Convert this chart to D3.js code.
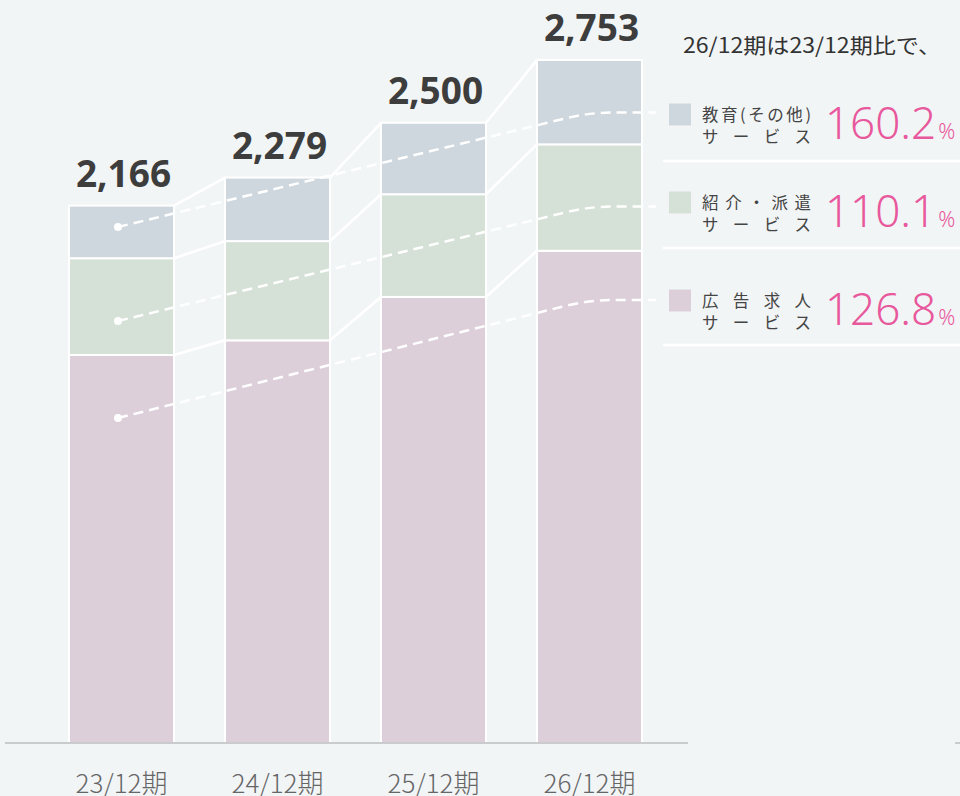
<!DOCTYPE html>
<html>
<head>
<meta charset="utf-8">
<script src="https://cdn.jsdelivr.net/npm/d3@7"></script>
<style>
  html, body { margin: 0; padding: 0; background: #f2f5f6; }
  svg { display: block; }
</style>
</head>
<body>
<div id="chart"></div>
<script>
// periods on the x axis
let periods = ['23/12期', '24/12期', '25/12期', '26/12期'];

// stacked series, bottom to top
let adValues = [1564, 1623, 1798, 1984];      // 広告求人サービス
let agencyValues = [390, 400, 414, 429];      // 紹介・派遣サービス
let eduValues = [212, 256, 288, 340];         // 教育(その他)サービス

// growth 26/12 vs 23/12, legend order top to bottom
let legendNames = [['教育(その他)', 'サービス'], ['紹介・派遣', 'サービス'], ['広告求人', 'サービス']];
let growthLabels = ['160.2', '110.1', '126.8'];
let headline = '26/12期は23/12期比で、';

let colors = {
  ad: '#dccfda',
  agency: '#d5e0d6',
  edu: '#ced7de'
};

let width = 960,
  height = 796;

let svg = d3.select('#chart').append('svg')
  .attr('width', width)
  .attr('height', height);

svg.append('rect')
  .attr('width', width)
  .attr('height', height)
  .attr('fill', '#f2f5f6');

///////////////////////////////////////////////////////////////////////////
///////////////////////////// Scales and stack ////////////////////////////
///////////////////////////////////////////////////////////////////////////

let rows = periods.map((p, i) => ({
  period: p,
  ad: adValues[i],
  agency: agencyValues[i],
  edu: eduValues[i]
}));
let totals = rows.map(r => r.ad + r.agency + r.edu);

let x = d3.scaleBand()
  .domain(periods)
  .range([43.5, 667.5])
  .paddingInner(0.327)
  .paddingOuter(0.1635);

let y = d3.scaleLinear()
  .domain([0, d3.max(totals)])
  .range([743, 60]);

let keys = ['ad', 'agency', 'edu'];
let series = d3.stack().keys(keys)(rows);
let bw = x.bandwidth();

///////////////////////////////////////////////////////////////////////////
////////////////////////// Bars and connectors ////////////////////////////
///////////////////////////////////////////////////////////////////////////

// white lines joining each layer's top between neighbouring bars
series.forEach(s => {
  for (let i = 0; i < s.length - 1; i++) {
    svg.append('line')
      .attr('x1', x(periods[i]) + bw)
      .attr('y1', y(s[i][1]))
      .attr('x2', x(periods[i + 1]))
      .attr('y2', y(s[i + 1][1]))
      .attr('stroke', '#fff')
      .attr('stroke-width', 2.6);
  }
});

svg.append('g')
  .selectAll('g')
  .data(series)
  .enter().append('g')
  .attr('fill', d => colors[d.key])
  .selectAll('rect')
  .data(d => d)
  .enter().append('rect')
  .attr('x', d => x(d.data.period))
  .attr('y', d => y(d[1]))
  .attr('width', bw)
  .attr('height', d => y(d[0]) - y(d[1]))
  .attr('stroke', '#fff')
  .attr('stroke-width', 2);

// totals above the bars
svg.append('g')
  .selectAll('text')
  .data(totals)
  .enter().append('text')
  .attr('x', (d, i) => x(periods[i]) + bw / 2 + 2)
  .attr('y', d => y(d) - 19)
  .attr('text-anchor', 'middle')
  .attr('font-family', '"Noto Sans", Roboto, sans-serif')
  .attr('font-weight', 700)
  .attr('font-size', 37)
  .attr('fill', '#3d3d3d')
  .text(d => d3.format(',')(d));

///////////////////////////////////////////////////////////////////////////
/////////////////////////////// Axis //////////////////////////////////////
///////////////////////////////////////////////////////////////////////////

svg.append('line')
  .attr('x1', 5).attr('x2', 688)
  .attr('y1', 743).attr('y2', 743)
  .attr('stroke', '#c9cbcc')
  .attr('stroke-width', 2);
svg.append('line')
  .attr('x1', 955).attr('x2', 960)
  .attr('y1', 743).attr('y2', 743)
  .attr('stroke', '#c9cbcc')
  .attr('stroke-width', 2);

let xAxis = svg.append('g')
  .attr('transform', 'translate(0,743)')
  .call(d3.axisBottom(x).tickSize(0));
xAxis.select('.domain').remove();
xAxis.selectAll('text')
  .attr('y', 50)
  .attr('dy', 0)
  .attr('font-family', '"Noto Sans CJK JP", sans-serif')
  .attr('font-weight', 300)
  .attr('font-size', 26)
  .attr('fill', '#666');

///////////////////////////////////////////////////////////////////////////
///////////////////////////// Legend //////////////////////////////////////
///////////////////////////////////////////////////////////////////////////

svg.append('text')
  .attr('x', 683)
  .attr('y', 53)
  .attr('font-family', '"Noto Sans CJK JP", sans-serif')
  .attr('font-size', 21)
  .attr('fill', '#333')
  .attr('textLength', 258)
  .attr('lengthAdjust', 'spacingAndGlyphs')
  .text(headline);

let legendKeys = ['edu', 'agency', 'ad'];
let rowCenters = [114.5, 202.5, 300.5];
let sepYs = [161, 248, 345];
let dotYs = [227, 321, 418];
let endYs = [112.5, 206.5, 300];

// dashed guide lines from the first bar to each legend row
legendKeys.forEach((k, i) => {
  let x0 = 118, y0 = dotYs[i], yE = endYs[i];
  let p = d3.path();
  p.moveTo(x0, y0);
  p.lineTo(565, yE + 6);
  p.quadraticCurveTo(590, yE, 612, yE);
  p.lineTo(656, yE);
  svg.append('path')
    .attr('d', p.toString())
    .attr('fill', 'none')
    .attr('stroke', '#fff')
    .attr('stroke-width', 2.5)
    .attr('stroke-dasharray', '10,6');
  svg.append('circle')
    .attr('cx', x0)
    .attr('cy', y0)
    .attr('r', 4)
    .attr('fill', '#fff');
});

sepYs.forEach(s => {
  svg.append('line')
    .attr('x1', 663).attr('x2', 960)
    .attr('y1', s).attr('y2', s)
    .attr('stroke', '#fff')
    .attr('stroke-width', 2.5);
});

let legend = svg.append('g')
  .selectAll('g')
  .data(legendKeys)
  .enter().append('g')
  .attr('transform', (d, i) => 'translate(0,' + rowCenters[i] + ')');

legend.append('rect')
  .attr('x', 669)
  .attr('y', -11)
  .attr('width', 22)
  .attr('height', 22)
  .attr('fill', d => colors[d]);

legend.each(function (d, i) {
  let g = d3.select(this);
  legendNames[i].forEach((line, j) => {
    g.append('text')
      .attr('x', 702)
      .attr('y', j === 0 ? 6.5 : 28.5)
      .attr('font-family', '"Noto Sans CJK JP", sans-serif')
      .attr('font-size', 16.5)
      .attr('fill', '#444')
      .attr('textLength', 109)
      .attr('lengthAdjust', 'spacing')
      .text(line);
  });
  let t = g.append('text')
    .attr('x', 825)
    .attr('y', 24.5)
    .attr('font-family', '"Noto Sans", sans-serif')
    .attr('font-weight', 300)
    .attr('fill', '#e8589c');
  t.append('tspan')
    .attr('font-size', 44)
    .text(growthLabels[i]);
  t.append('tspan')
    .attr('dx', 2)
    .attr('font-size', 21)
    .text('%');
});
</script>
</body>
</html>
